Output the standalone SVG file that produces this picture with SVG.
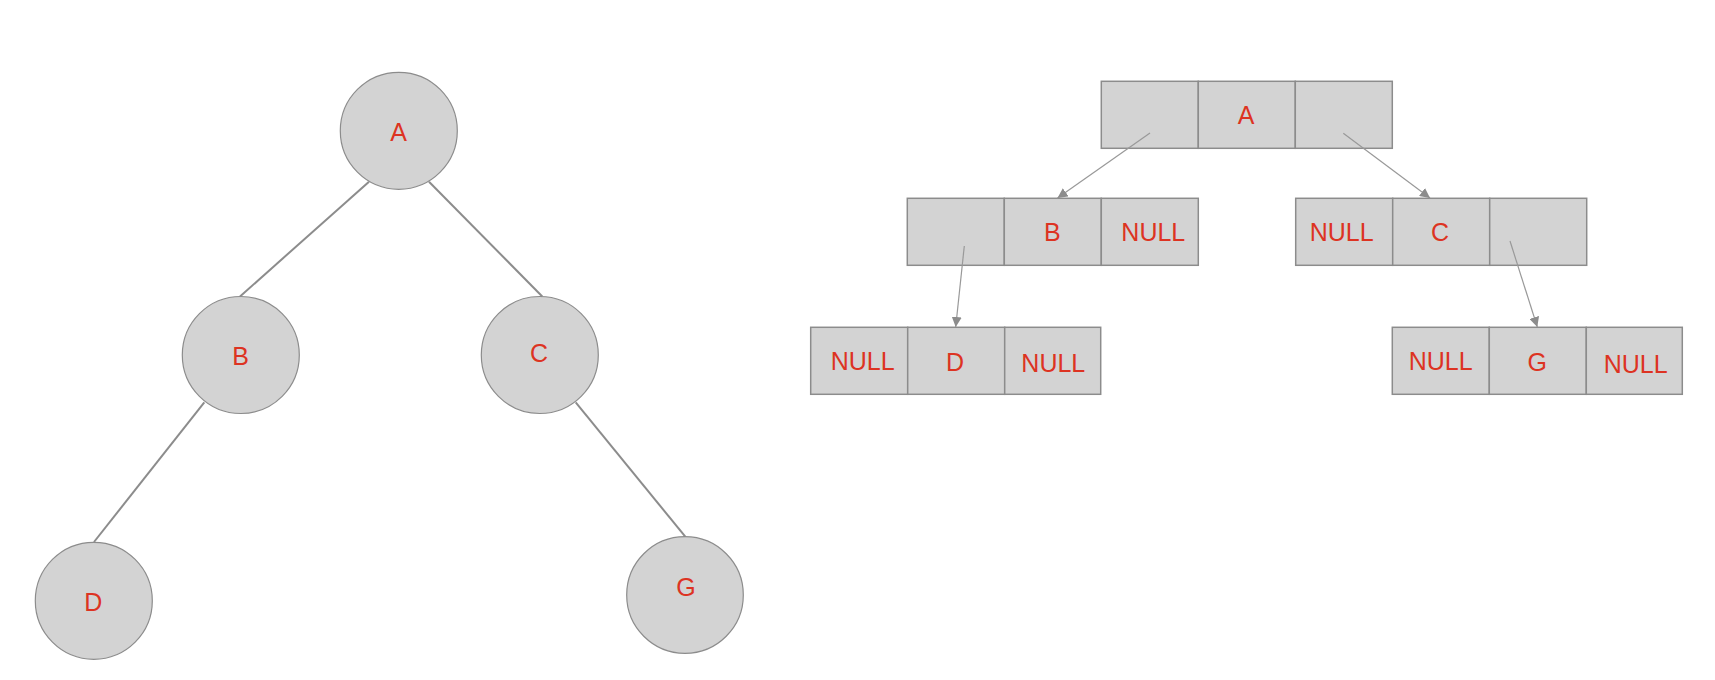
<svg xmlns="http://www.w3.org/2000/svg" width="1715" height="680" viewBox="0 0 1715 680">
<style>
.c{fill:#d3d3d3;stroke:#8c8c8c;stroke-width:1.2}
.r{fill:#d3d3d3;stroke:#8c8c8c;stroke-width:1.5}
.t{font-family:"Liberation Sans",Arial,sans-serif;font-size:25px;fill:#dd3322;text-anchor:middle}
.e{stroke:#8c8c8c;stroke-width:2;fill:none}
.p{stroke:#999;stroke-width:1.2;fill:none;marker-end:url(#ah)}
</style>
<defs>
<marker id="ah" viewBox="0 0 10 10" refX="10" refY="5" markerWidth="10" markerHeight="10" markerUnits="userSpaceOnUse" orient="auto">
<path d="M0,0 L10,5 L0,10 z" fill="#8c8c8c"/>
</marker>
</defs>
<rect width="1715" height="680" fill="#fff"/>
<g id="nodeA"><circle class="c" cx="398.8" cy="130.8" r="58.5"/><text class="t" x="398.5" y="140.5">A</text></g>
<g id="nodeB"><circle class="c" cx="240.8" cy="355" r="58.5"/><text class="t" x="240.7" y="364.5">B</text></g>
<g id="nodeC"><circle class="c" cx="539.8" cy="355" r="58.5"/><text class="t" x="539" y="361.5">C</text></g>
<g id="nodeD"><circle class="c" cx="93.8" cy="600.8" r="58.5"/><text class="t" x="93.3" y="610.5">D</text></g>
<g id="nodeG"><circle class="c" cx="685" cy="595" r="58.3"/><text class="t" x="686" y="595.5">G</text></g>
<g id="listA">
<rect class="r" x="1101.3" y="81.3" width="97" height="67"/>
<rect class="r" x="1198.3" y="81.3" width="97" height="67"/>
<rect class="r" x="1295.3" y="81.3" width="97" height="67"/>
<text class="t" x="1246" y="124">A</text>
</g>
<g id="listB">
<rect class="r" x="907.3" y="198.3" width="97" height="67"/>
<rect class="r" x="1004.3" y="198.3" width="97" height="67"/>
<rect class="r" x="1101.3" y="198.3" width="97" height="67"/>
<text class="t" x="1052.3" y="240.7">B</text>
<text class="t" x="1153.3" y="240.7">NULL</text>
</g>
<g id="listC">
<rect class="r" x="1295.7" y="198.3" width="97" height="67"/>
<rect class="r" x="1392.7" y="198.3" width="97" height="67"/>
<rect class="r" x="1489.7" y="198.3" width="97" height="67"/>
<text class="t" x="1341.7" y="240.7">NULL</text>
<text class="t" x="1440" y="241.3">C</text>
</g>
<g id="listD">
<rect class="r" x="810.7" y="327.3" width="97" height="67"/>
<rect class="r" x="907.7" y="327.3" width="97" height="67"/>
<rect class="r" x="1004.7" y="327.3" width="96" height="67"/>
<text class="t" x="862.7" y="370">NULL</text>
<text class="t" x="955" y="370.7">D</text>
<text class="t" x="1053.3" y="372.3">NULL</text>
</g>
<g id="listG">
<rect class="r" x="1392.3" y="327.3" width="97" height="67"/>
<rect class="r" x="1489.3" y="327.3" width="97" height="67"/>
<rect class="r" x="1586.3" y="327.3" width="96" height="67"/>
<text class="t" x="1440.7" y="369.7">NULL</text>
<text class="t" x="1537.3" y="370.7">G</text>
<text class="t" x="1635.7" y="373">NULL</text>
</g>
<g id="connectors">
<line class="e" x1="369" y1="181.7" x2="240" y2="296.5"/>
<line class="e" x1="429" y1="181.7" x2="542.3" y2="296.5"/>
<line class="e" x1="204.3" y1="402.3" x2="94" y2="542"/>
<line class="e" x1="575.7" y1="402.3" x2="685.3" y2="536.7"/>
<line class="p" x1="1150" y1="133" x2="1057.5" y2="198"/>
<line class="p" x1="1343.3" y1="133.3" x2="1430" y2="198"/>
<line class="p" x1="964.3" y1="246" x2="955.7" y2="327"/>
<line class="p" x1="1510" y1="241" x2="1537.3" y2="327"/>
</g>
</svg>
